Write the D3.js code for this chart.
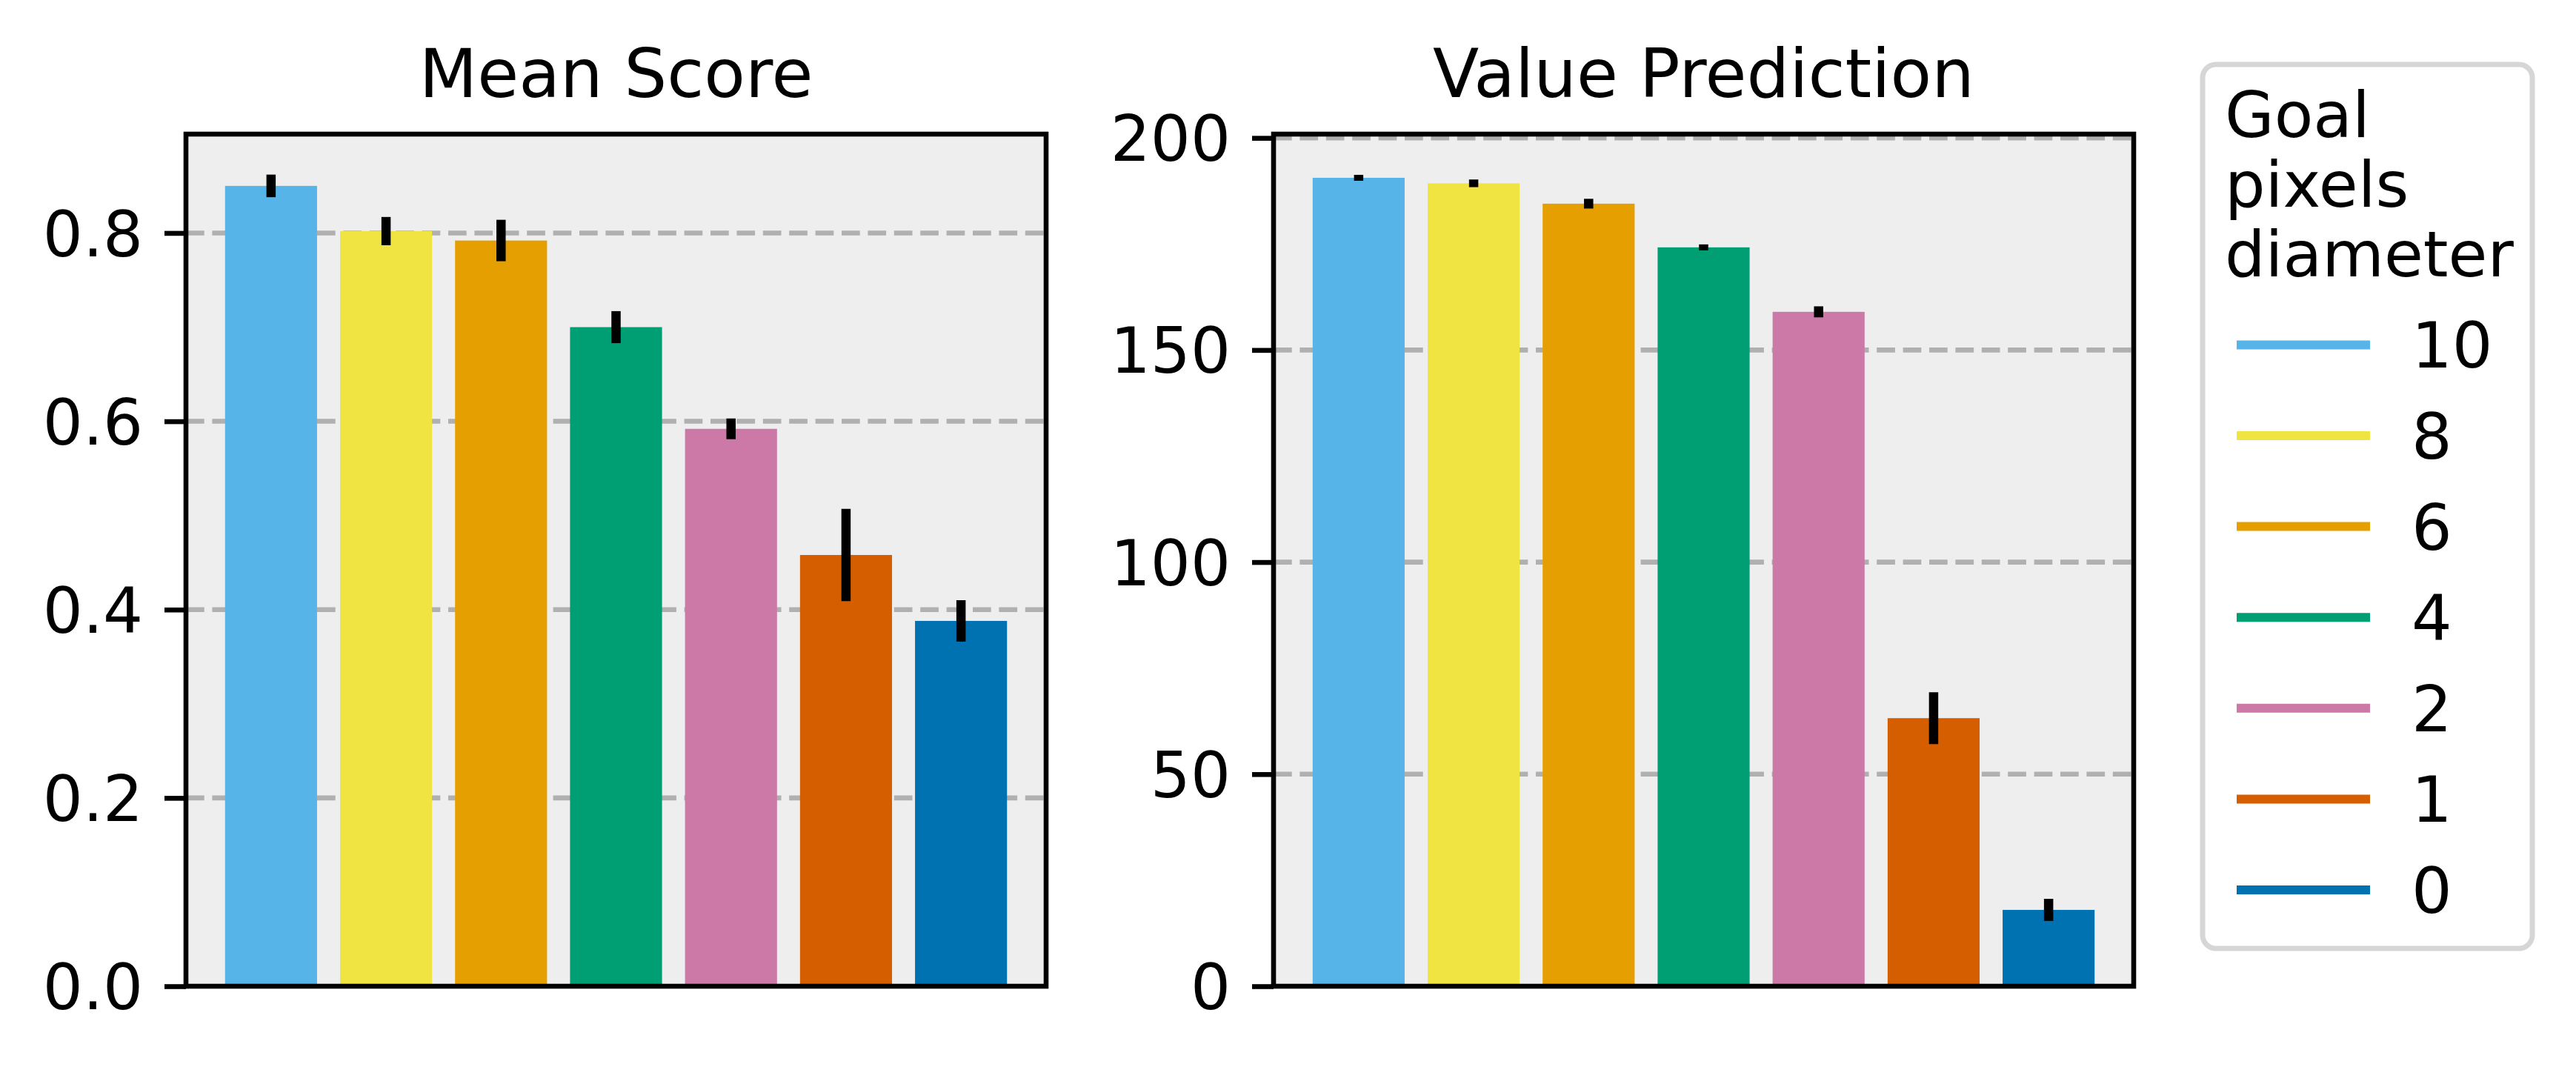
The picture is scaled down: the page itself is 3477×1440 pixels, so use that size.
<!DOCTYPE html>
<html lang="en">
<head>
<meta charset="UTF-8">
<title>Mean Score / Value Prediction</title>
<script src="https://cdn.jsdelivr.net/npm/d3@7"></script>
<style>
  body { margin: 0; background: #fff; }
  text { font-family: "DejaVu Sans", sans-serif; fill: #000; }
</style>
</head>
<body>
<svg id="chart" width="3477" height="1440"></svg>
<script>
// data
const categories = ["10", "8", "6", "4", "2", "1", "0"];
const colors = ["#56B4E9", "#F0E442", "#E69F00", "#009E73", "#CC79A7", "#D55E00", "#0072B2"];

const meanScore = [0.850, 0.802, 0.792, 0.700, 0.592, 0.458, 0.388];
const meanScoreErr = [0.012, 0.015, 0.022, 0.017, 0.011, 0.049, 0.022];
const scoreTicks = [0, 0.2, 0.4, 0.6, 0.8];

const valuePred = [190.6, 189.3, 184.5, 174.2, 159.0, 63.2, 18.0];
const valuePredErr = [0.7, 0.9, 1.15, 0.7, 1.3, 6.1, 2.6];
const valueTicks = [0, 50, 100, 150, 200];

const legendTitle = ["Goal", "pixels", "diameter"];

const svg = d3.select("#chart");
const plotTop = 181, plotBottom = 1331;
const lw = 6.6;

function panel(left, right, title, values, errs, yMax, ticks, fmt) {
  const g = svg.append("g");
  const x = d3.scaleLinear().domain([-0.74, categories.length - 1 + 0.74]).range([left, right]);
  const y = d3.scaleLinear().domain([0, yMax]).range([plotBottom, plotTop]);
  const bw = x(0.8) - x(0);

  g.append("rect")
    .attr("x", left).attr("y", plotTop)
    .attr("width", right - left).attr("height", plotBottom - plotTop)
    .attr("fill", "#eeeeee");

  // grid behind the bars
  g.selectAll(".grid").data(ticks.filter(t => t > 0)).join("line")
    .attr("x1", left).attr("x2", right)
    .attr("y1", d => y(d)).attr("y2", d => y(d))
    .attr("stroke", "#b0b0b0").attr("stroke-width", lw)
    .attr("stroke-dasharray", "24.7,10.7");

  g.selectAll(".bar").data(values).join("rect")
    .attr("x", (d, i) => x(i) - bw / 2)
    .attr("y", d => y(d))
    .attr("width", bw)
    .attr("height", d => y(0) - y(d))
    .attr("fill", (d, i) => colors[i]);

  g.selectAll(".err").data(values).join("line")
    .attr("x1", (d, i) => x(i)).attr("x2", (d, i) => x(i))
    .attr("y1", (d, i) => y(d + errs[i]))
    .attr("y2", (d, i) => y(d - errs[i]))
    .attr("stroke", "#000").attr("stroke-width", 12.5);

  g.append("rect")
    .attr("x", left).attr("y", plotTop)
    .attr("width", right - left).attr("height", plotBottom - plotTop)
    .attr("fill", "none").attr("stroke", "#000").attr("stroke-width", lw);

  const ax = g.append("g")
    .attr("transform", `translate(${left},0)`)
    .call(d3.axisLeft(y).tickValues(ticks).tickFormat(fmt).tickSize(29).tickPadding(29));
  ax.select(".domain").remove();
  ax.selectAll(".tick line").attr("stroke", "#000").attr("stroke-width", lw);
  ax.selectAll(".tick text")
    .attr("font-size", 85)
    .attr("font-family", "DejaVu Sans")
    .attr("dy", "0.36em")
    .attr("fill", "#000");

  g.append("text")
    .attr("x", (left + right) / 2).attr("y", 131)
    .attr("text-anchor", "middle")
    .attr("font-size", 91)
    .text(title);
}

panel(251, 1412, "Mean Score", meanScore, meanScoreErr, 0.905, scoreTicks, d3.format(".1f"));
panel(1719, 2880, "Value Prediction", valuePred, valuePredErr, 200.9, valueTicks, d3.format("d"));

// legend
const lg = svg.append("g");
lg.append("rect")
  .attr("x", 2973).attr("y", 87)
  .attr("width", 3418 - 2973).attr("height", 1280 - 87)
  .attr("rx", 18).attr("ry", 18)
  .attr("fill", "#fff").attr("stroke", "#d6d6d6").attr("stroke-width", 7);

lg.selectAll(".lt").data(legendTitle).join("text")
  .attr("x", 3003)
  .attr("y", (d, i) => 184.6 + i * 94)
  .attr("font-size", 86)
  .text(d => d);

const ly = d3.scaleLinear().domain([0, categories.length - 1]).range([465.4, 1201]);
const items = lg.selectAll(".item").data(categories).join("g")
  .attr("transform", (d, i) => `translate(0,${ly(i)})`);
items.append("line")
  .attr("x1", 3019).attr("x2", 3199)
  .attr("stroke", (d, i) => colors[i]).attr("stroke-width", 12);
items.append("text")
  .attr("x", 3255).attr("dy", "0.36em")
  .attr("font-size", 86)
  .text(d => d);
</script>
</body>
</html>
